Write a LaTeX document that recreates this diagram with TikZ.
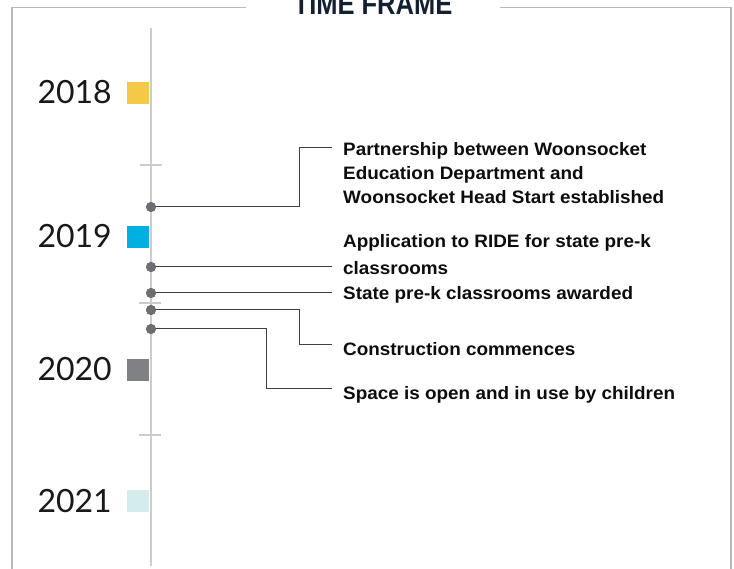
\documentclass[tikz,border=0pt]{standalone}
\usepackage{fontspec}
\setmainfont{Liberation Sans}
\newfontfamily\titlefont[FakeStretch=0.85]{Liberation Sans}
\newfontfamily\eventfont[FakeStretch=1.05]{Liberation Sans}
\newfontfamily\yearfont{Lato}
\begin{document}
\begin{tikzpicture}[x=1pt,y=-1pt,
  frame/.style={draw=black!28,line width=1.5pt},
  axis/.style={draw=black!20,line width=1.5pt},
  tick/.style={draw=black!20,line width=1.2pt},
  yearsq/.style={minimum size=22pt,inner sep=0pt,anchor=north west},
  year/.style={font=\yearfont\fontsize{32}{36}\selectfont,text=black!90,anchor=base east,inner sep=0pt},
  dot/.style={circle,fill=dotgray,inner sep=0pt,minimum size=10pt},
  conn/.style={draw=black!75,line width=1pt},
  event/.style={font=\eventfont\bfseries\fontsize{18}{24}\selectfont,text=black!95,anchor=base west,inner sep=0pt,align=left}]
\definecolor{dotgray}{HTML}{6D6E71}
\definecolor{navy}{HTML}{14202F}
\definecolor{gold}{HTML}{F5C847}
\definecolor{sky}{HTML}{00B0E0}
\definecolor{midgray}{HTML}{808184}
\definecolor{pale}{HTML}{D4ECEC}
\clip (0,0) rectangle (734,569);
% frame
\coordinate (fl1) at (246,7.5);
\coordinate (fl0) at (12,569);
\coordinate (fr1) at (500,7.5);
\coordinate (fr0) at (731,569);
\draw[frame] (fl0) |- (fl1);
\draw[frame] (fr0) |- (fr1);
\node[font=\titlefont\bfseries\fontsize{30}{34}\selectfont,text=navy,anchor=base,inner sep=0pt] (title) at (373,15) {TIME FRAME};
% axis
\coordinate (ax0) at (151,28);
\coordinate (ax1) at (151,566);
\draw[axis] (ax0) -- (ax1);
% ticks
\coordinate (t1a) at (140,165); \coordinate (t1b) at (162,165);
\coordinate (t2a) at (139,303); \coordinate (t2b) at (161,303);
\coordinate (t3a) at (139,435); \coordinate (t3b) at (161,435);
\draw[tick] (t1a) -- (t1b);
\draw[tick] (t2a) -- (t2b);
\draw[tick] (t3a) -- (t3b);
% years
\node[yearsq,fill=gold] (s18) at (127,82) {};
\node[yearsq,fill=sky] (s19) at (127,226) {};
\node[yearsq,fill=midgray] (s20) at (127,359) {};
\node[yearsq,fill=pale] (s21) at (127,490) {};
\node[year] (y18) at (112,104) {2018};
\node[year] (y19) at (112,248) {2019};
\node[year] (y20) at (112,381) {2020};
\node[year] (y21) at (112,512) {2021};
% dots
\node[dot] (d1) at (151,207) {};
\node[dot] (d2) at (151,267) {};
\node[dot] (d3) at (151,293) {};
\node[dot] (d4) at (151,310) {};
\node[dot] (d5) at (151,329) {};
% connector ends
\coordinate (e1) at (332,148);
\coordinate (e2) at (332,267);
\coordinate (e3) at (332,293);
\coordinate (e4) at (332,345);
\coordinate (e5) at (332,389);
\draw[conn] (d1.center) -- ++(148,0) |- (e1);
\draw[conn] (d2.center) -- (e2);
\draw[conn] (d3.center) -- (e3);
\draw[conn] (d4.center) -- ++(148,0) |- (e4);
\draw[conn] (d5.center) -- ++(115,0) |- (e5);
\node[dot] at (d1) {};
\node[dot] at (d2) {};
\node[dot] at (d3) {};
\node[dot] at (d4) {};
\node[dot] at (d5) {};
% texts
\node[event] (x1) at (343,203.5) {Partnership between Woonsocket\\Education Department and\\Woonsocket Head Start established};
\node[event] (x2) at (343,274.5) {Application to RIDE for state pre-k\\[3pt]classrooms};
\node[event] (x3) at (343,299.5) {State pre-k classrooms awarded};
\node[event] (x4) at (343,355.5) {Construction commences};
\node[event] (x5) at (343,399.5) {Space is open and in use by children};
\end{tikzpicture}
\end{document}
